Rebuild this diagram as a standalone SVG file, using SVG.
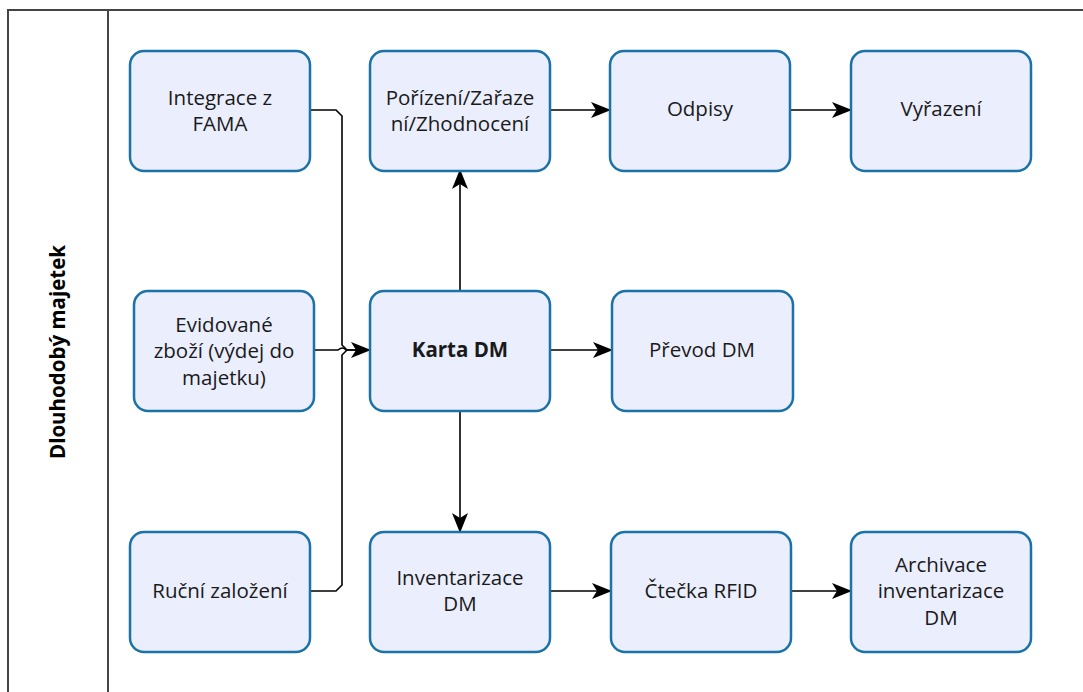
<svg xmlns="http://www.w3.org/2000/svg" width="1083" height="692" viewBox="0 0 1083 692">
<style>
.node rect{fill:#eaeefd;stroke:#1b72a6;stroke-width:2.5}
.node text{font-family:"Open Sans","Noto Sans",sans-serif;font-size:20.5px;fill:#1a1a1a;text-anchor:middle}
.conn path{fill:none;stroke:#000;stroke-width:1.6}
.lane{fill:none;stroke:#444;stroke-width:2}
.title{font-family:"Open Sans","Noto Sans",sans-serif;font-size:20.5px;font-weight:bold;fill:#000;text-anchor:middle}
</style>
<defs>
<marker id="arr" viewBox="0 0 20 16" refX="19" refY="8" markerWidth="20" markerHeight="16" markerUnits="userSpaceOnUse" orient="auto">
<path d="M0,0 L20,8 L0,16 L5,8 Z" fill="#000"/>
</marker>
</defs>
<rect width="1083" height="692" fill="#fff"/>
<g id="lane">
<path class="lane" d="M1083,10 H8 V692 M108,10 V692"/>
<text class="title" transform="translate(65,352) rotate(-90)">Dlouhodobý majetek</text>
</g>
<g class="conn" id="connectors">
<path d="M310,110 H336 L342,116 V345 L347,350 H370" marker-end="url(#arr)"/>
<path d="M314,350 H338 Q343,346 346,350 H370"/>
<path d="M310,591 H336 L342,585 V355 L347,350"/>
<path d="M460,290 V170" marker-end="url(#arr)"/>
<path d="M460,410 V532" marker-end="url(#arr)"/>
<path d="M550,350 H612" marker-end="url(#arr)"/>
<path d="M550,110 H610" marker-end="url(#arr)"/>
<path d="M790,110 H851" marker-end="url(#arr)"/>
<path d="M550,591 H611" marker-end="url(#arr)"/>
<path d="M791,591 H851" marker-end="url(#arr)"/>
</g>
<g class="node" id="n-integrace"><rect x="130" y="51" width="180" height="120" rx="14"/><text x="220" y="105">Integrace z</text><text x="220" y="131">FAMA</text></g>
<g class="node" id="n-porizeni"><rect x="370" y="51" width="180" height="120" rx="14"/><text x="460" y="105">Pořízení/Zařaze</text><text x="460" y="131">ní/Zhodnocení</text></g>
<g class="node" id="n-odpisy"><rect x="610" y="51" width="180" height="120" rx="14"/><text x="700" y="116">Odpisy</text></g>
<g class="node" id="n-vyrazeni"><rect x="851" y="51" width="180" height="120" rx="14"/><text x="941" y="116">Vyřazení</text></g>
<g class="node" id="n-evidovane"><rect x="134" y="291" width="180" height="120" rx="14"/><text x="224" y="332">Evidované</text><text x="224" y="358">zboží (výdej do</text><text x="224" y="385">majetku)</text></g>
<g class="node" id="n-karta"><rect x="370" y="291" width="180" height="120" rx="14"/><text x="460" y="357" font-weight="bold">Karta DM</text></g>
<g class="node" id="n-prevod"><rect x="612" y="291" width="181" height="120" rx="14"/><text x="702" y="357">Převod DM</text></g>
<g class="node" id="n-rucni"><rect x="130" y="532" width="180" height="120" rx="14"/><text x="220" y="598">Ruční založení</text></g>
<g class="node" id="n-inventarizace"><rect x="370" y="532" width="180" height="120" rx="14"/><text x="460" y="585">Inventarizace</text><text x="460" y="611">DM</text></g>
<g class="node" id="n-ctecka"><rect x="611" y="532" width="180" height="120" rx="14"/><text x="701" y="598">Čtečka RFID</text></g>
<g class="node" id="n-archivace"><rect x="851" y="532" width="180" height="120" rx="14"/><text x="941" y="572">Archivace</text><text x="941" y="598">inventarizace</text><text x="941" y="625">DM</text></g>
</svg>
